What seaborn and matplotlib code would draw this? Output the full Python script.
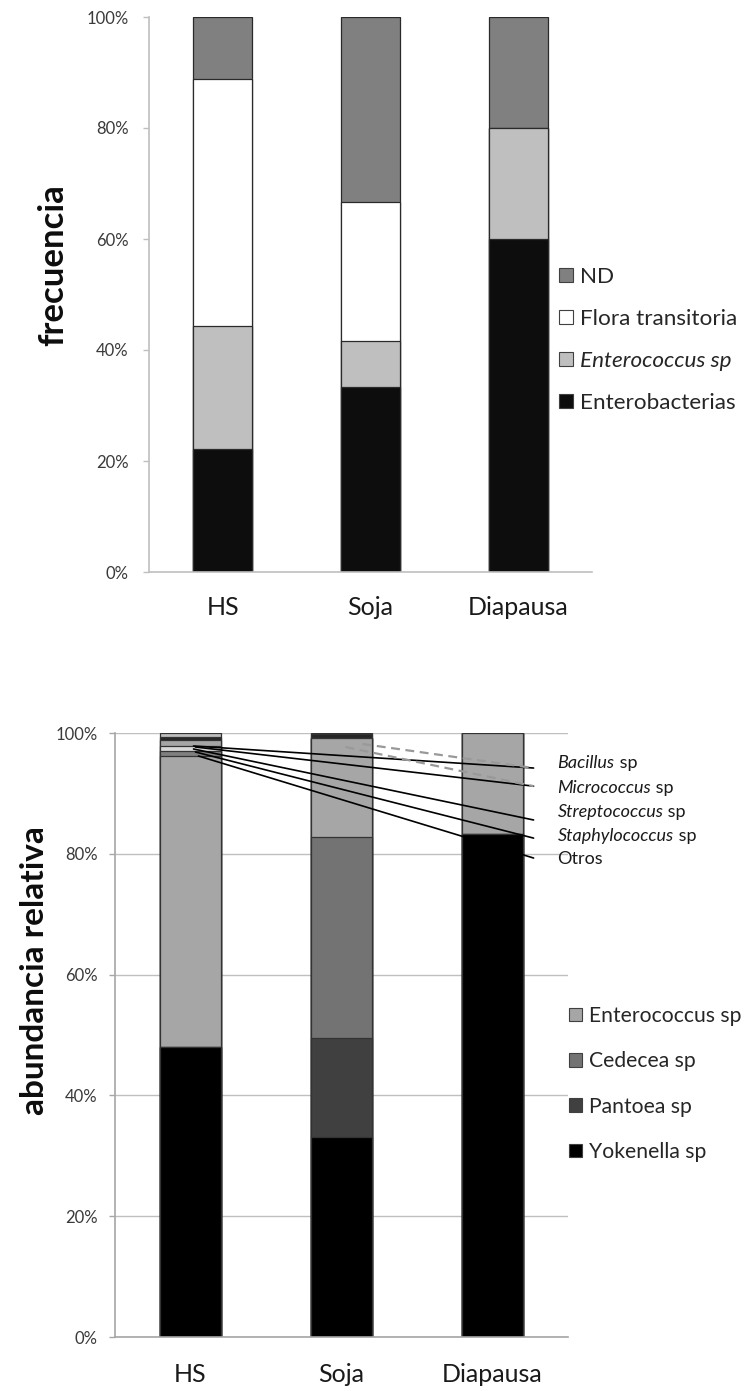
import matplotlib
matplotlib.use("Agg")
import matplotlib.pyplot as plt
import seaborn as sns
import numpy as np
from matplotlib.patches import Patch
from matplotlib.ticker import PercentFormatter, FixedLocator

sns.set_theme(style="white")
plt.rcParams['font.family'] = ['Lato', 'DejaVu Sans']

groups = ["HS", "Soja", "Diapausa"]

# Upper panel: frequency (%) by category, bottom to top
freq_labels = ["Enterobacterias", "Enterococcus sp", "Flora transitoria", "ND"]
enterobacterias = [22.2, 33.3, 60.0]
enterococcus_freq = [22.2, 8.4, 20.0]
flora_transitoria = [44.5, 25.0, 0.0]
nd = [11.1, 33.3, 20.0]
freq_colors = ["#0d0d0d", "#bfbfbf", "#ffffff", "#808080"]

# Lower panel: relative abundance (%) by genus, bottom to top
abund_labels = ["Yokenella sp", "Pantoea sp", "Cedecea sp", "Enterococcus sp",
                "Otros", "Staphylococcus sp", "Streptococcus sp",
                "Micrococcus sp", "Bacillus sp"]
yokenella = [48.0, 33.1, 83.3]
pantoea = [0.0, 16.4, 0.0]
cedecea = [0.0, 33.3, 0.0]
enterococcus_abund = [48.2, 16.4, 16.7]
otros = [0.8, 0.0, 0.0]
staphylococcus = [0.8, 0.0, 0.0]
streptococcus = [1.0, 0.0, 0.0]
micrococcus = [0.5, 0.6, 0.0]
bacillus = [0.7, 0.2, 0.0]
abund_colors = ["#000000", "#404040", "#737373", "#a6a6a6",
                "#7f7f7f", "#d9d9d9", "#a6a6a6", "#262626", "#bfbfbf"]

W, H = 754, 1391
fig = plt.figure(figsize=(W / 100, H / 100), dpi=100)


def px_axes(left, top, right, bottom):
    return fig.add_axes([left / W, 1 - bottom / H, (right - left) / W, (bottom - top) / H])


def stacked(ax, layers, colors, edge):
    cum = np.cumsum(np.array(layers, dtype=float), axis=0)
    # draw the running totals from the tallest down so each layer shows as a segment
    for i in range(len(layers) - 1, -1, -1):
        sns.barplot(x=groups, y=cum[i], color=colors[i], saturation=1, width=0.4,
                    edgecolor=edge, linewidth=0.9, errorbar=None, ax=ax, zorder=2)


def style_axes(ax, axis_color, ypad, xpad):
    ax.set_xlim(-0.5, 2.5)
    ax.set_ylim(0, 100)
    ax.yaxis.set_major_locator(FixedLocator([0, 20, 40, 60, 80, 100]))
    ax.yaxis.set_major_formatter(PercentFormatter(decimals=0))
    ax.set_xticks([0, 1, 2])
    ax.set_xticklabels(groups)
    ax.xaxis.set_minor_locator(FixedLocator([-0.5, 0.5, 1.5, 2.5]))
    ax.tick_params(axis="x", which="major", length=0, pad=xpad, labelsize=18, labelcolor="#1a1a1a")
    ax.tick_params(axis="x", which="minor", length=5.8, width=1, color=axis_color, direction="out")
    ax.tick_params(axis="y", which="major", length=4.5, width=1, color=axis_color, direction="out",
                   pad=ypad, labelsize=12, labelcolor="#3a3a3a", left=True)
    for s in ["top", "right"]:
        ax.spines[s].set_visible(False)
    for s in ["left", "bottom"]:
        ax.spines[s].set_color(axis_color)
        ax.spines[s].set_linewidth(1.2)
    ax.set_xlabel("")
    ax.set_ylabel("")


# ---------------- upper panel ----------------
ax1 = px_axes(149, 17, 592, 572)
stacked(ax1, [enterobacterias, enterococcus_freq, flora_transitoria, nd], freq_colors, "#2a2a2a")
style_axes(ax1, "#bfbfbf", 10, 17)

handles1 = [Patch(facecolor=c, edgecolor="#404040", linewidth=0.8) for c in freq_colors]
order = [3, 2, 1, 0]
leg1 = fig.legend([handles1[i] for i in order], [freq_labels[i] for i in order],
                  loc="center left", bbox_to_anchor=(559 / W, 1 - 340 / H),
                  frameon=False, fontsize=16.2, handlelength=0.6, handleheight=0.6,
                  handletextpad=0.35, labelspacing=0.97, borderpad=0, borderaxespad=0)
leg1.get_texts()[2].set_style("italic")

fig.text(53 / W, 1 - 265 / H, "frecuencia", rotation=90, ha="center", va="center",
         fontsize=25, fontweight="bold", color="#0d0d0d")

# ---------------- lower panel ----------------
ax2 = px_axes(115, 733, 568, 1337)
ax2.yaxis.grid(True, color="#bfbfbf", linewidth=1, zorder=0)
ax2.set_axisbelow(True)
stacked(ax2, [yokenella, pantoea, cedecea, enterococcus_abund, otros, staphylococcus,
              streptococcus, micrococcus, bacillus], abund_colors, "#333333")
style_axes(ax2, "#a6a6a6", 8, 19)

# leader lines from the small genera to their labels
label_y = [95.0, 90.9, 86.9, 82.9, 79.1]
line_end = [94.2, 91.2, 85.6, 82.6, 79.3]
line_start_hs = [(0.02, 97.85), (0.033, 97.68), (0.02, 97.35), (0.033, 96.85), (0.053, 96.19)]
line_start_soja = [(1.139, 98.18), (1.026, 97.68)]
end_x = 2.272
for (sx, sy), ey in zip(line_start_hs, line_end):
    ax2.plot([sx, end_x], [sy, ey], color="black", linewidth=1.2, zorder=5, clip_on=False)
for (sx, sy), ey in zip(line_start_soja, line_end[:2]):
    ax2.plot([sx, end_x], [sy, ey], color="#999999", linewidth=1.6, linestyle=(0, (4, 2.5)),
             zorder=5, clip_on=False)

small_names = [("Bacillus", " sp"), ("Micrococcus", " sp"), ("Streptococcus", " sp"),
               ("Staphylococcus", " sp"), ("Otros", "")]
for (genus, suffix), ly in zip(small_names, label_y):
    if suffix:
        t = ax2.text(2.43, ly, genus, style="italic", fontsize=13, va="center", ha="left",
                     color="#1a1a1a", clip_on=False)
        ax2.annotate(suffix, xy=(1, 0), xycoords=t, va="bottom", ha="left",
                     fontsize=13, color="#1a1a1a", annotation_clip=False)
    else:
        ax2.text(2.43, ly, genus, fontsize=13, va="center", ha="left",
                 color="#1a1a1a", clip_on=False)

handles2 = [Patch(facecolor=c, edgecolor="#404040", linewidth=0.8) for c in abund_colors[:4]]
leg2 = fig.legend([handles2[i] for i in order], [abund_labels[i] for i in order],
                  loc="center left", bbox_to_anchor=(569 / W, 1 - 1084 / H),
                  frameon=False, fontsize=15.2, handlelength=0.62, handleheight=0.62,
                  handletextpad=0.35, labelspacing=1.2, borderpad=0, borderaxespad=0)

fig.text(35 / W, 1 - 971 / H, "abundancia relativa", rotation=90, ha="center", va="center",
         fontsize=24, fontweight="bold", color="#0d0d0d")

fig.savefig("out.png", dpi=100, facecolor="white")
